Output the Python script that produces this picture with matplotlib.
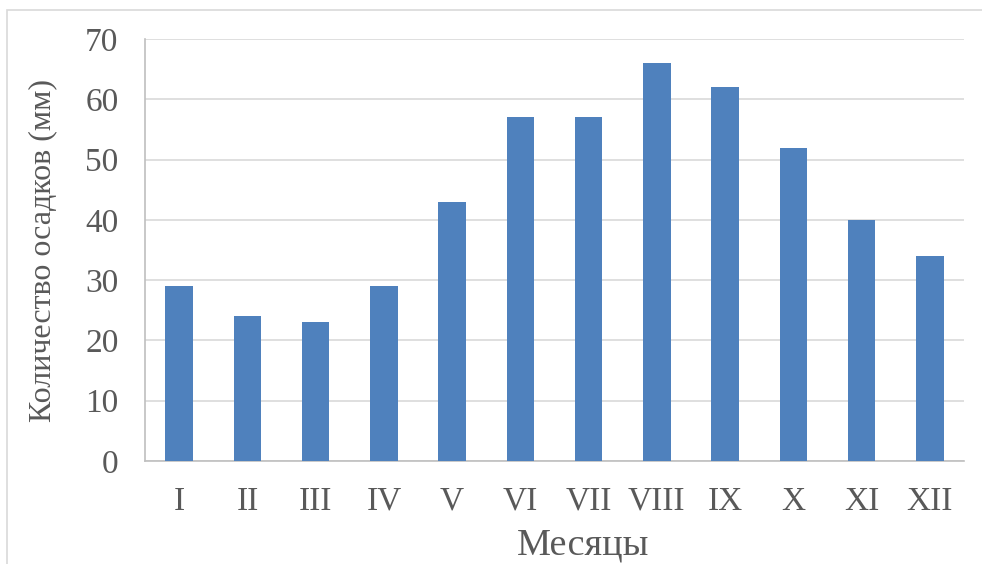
import numpy as np
import matplotlib.pyplot as plt
from matplotlib.patches import Rectangle

# monthly precipitation
months = ['I', 'II', 'III', 'IV', 'V', 'VI', 'VII', 'VIII', 'IX', 'X', 'XI', 'XII']
precip = [29, 24, 23, 29, 43, 57, 57, 66, 62, 52, 40, 34]

plt.rcParams['font.family'] = ['Liberation Serif', 'DejaVu Serif']

fig = plt.figure(figsize=(9.82, 5.64), dpi=100)
# outer chart frame (Excel style)
fig.patches.append(Rectangle((7/982, -0.05), 1.0, 1 - 10/564 + 0.05, transform=fig.transFigure,
                             fill=False, edgecolor='#d9d9d9', linewidth=1.2))

ax = fig.add_axes([145/982, 1 - 461/564, 819/982, 422/564])
x = np.arange(len(months))
ax.bar(x, precip, width=0.4, color='#4f81bd', zorder=3)

ax.set_xlim(-0.5, len(months) - 0.5)
ax.set_ylim(0, 70)
ax.set_yticks(range(0, 71, 10))
ax.set_xticks(x)
ax.set_xticklabels(months)
ax.grid(axis='y', color='#d9d9d9', linewidth=1.2, zorder=0)
for s in ['top', 'right']:
    ax.spines[s].set_visible(False)
ax.spines['left'].set_color('#bfbfbf')
ax.spines['bottom'].set_color('#bfbfbf')
ax.spines['left'].set_linewidth(1.2)
ax.spines['bottom'].set_linewidth(1.2)
ax.tick_params(length=0, labelsize=24, colors='#595959')
ax.tick_params(axis='y', pad=19)
ax.tick_params(axis='x', pad=18)

ax.set_xlabel('Месяцы', fontsize=27.5, color='#595959', labelpad=8)
ax.xaxis.label.set_x(0.535)  # label sits a bit right of centre in the original
ax.set_ylabel('Количество осадков (мм)', fontsize=23, color='#595959', labelpad=20)

fig.savefig('out.png', dpi=100)
